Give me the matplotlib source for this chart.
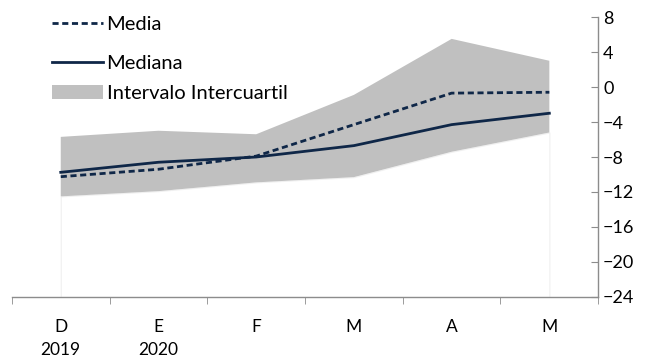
import matplotlib
matplotlib.use("Agg")
import matplotlib.pyplot as plt
from matplotlib.patches import Patch
from matplotlib.lines import Line2D

plt.rcParams['font.family'] = ['Lato', 'DejaVu Sans']

meses = ['D\n2019', 'E\n2020', 'F', 'M', 'A', 'M']
media = [-10.25, -9.4, -7.9, -4.3, -0.7, -0.6]
mediana = [-9.75, -8.6, -8.0, -6.7, -4.3, -3.0]
q1 = [-12.5, -11.9, -10.9, -10.3, -7.4, -5.2]
q3 = [-5.7, -5.0, -5.4, -0.9, 5.5, 3.0]

navy = '#0f2748'
gris = '#c0c0c0'
eje = '#8c8c8c'

fig = plt.figure(figsize=(6.61, 3.58), dpi=100)
ax = fig.add_axes([0.018, 0.1704, 0.887, 0.7821])

x = list(range(len(meses)))
ax.fill_between(x, -24, q1, facecolor='white', edgecolor='#f0f0f0', lw=0.8, zorder=1)
ax.fill_between(x, q1, q3, facecolor=gris, edgecolor='none', zorder=2)
ax.plot(x, mediana, color=navy, lw=2.0, zorder=3)
ax.plot(x, media, color=navy, lw=2.0, ls=(0, (2.2, 1.3)), zorder=4)

ax.set_xlim(-0.5, 5.5)
ax.set_ylim(-24, 8)
ax.set_yticks(range(-24, 9, 4))
ax.yaxis.tick_right()
ax.tick_params(axis='y', direction='in', length=5, color=eje, labelsize=13,
               pad=3.5, right=True, left=False)
ax.set_xticks(x)
ax.set_xticklabels(meses, linespacing=1.55)
ax.set_xticks([i - 0.5 for i in range(len(meses) + 1)], minor=True)
ax.tick_params(axis='x', which='major', length=0, labelsize=12.5, pad=16)
ax.tick_params(axis='x', which='minor', length=5, color=eje, direction='out')

for s in ['top', 'left']:
    ax.spines[s].set_visible(False)
for s in ['right', 'bottom']:
    ax.spines[s].set_color(eje)
    ax.spines[s].set_linewidth(1.0)

h1 = [Line2D([], [], color=navy, lw=2.0, ls=(0, (2.2, 1.3)))]
leg1 = ax.legend(h1, ['Media'], loc='upper left', bbox_to_anchor=(0.055, 1.033),
                 frameon=False, fontsize=14.5, handlelength=2.5, handletextpad=0.2,
                 borderaxespad=0)
ax.add_artist(leg1)
h2 = [Line2D([], [], color=navy, lw=2.0),
      Patch(facecolor=gris, edgecolor='none')]
ax.legend(h2, ['Mediana', 'Intervalo Intercuartil'], loc='upper left',
          bbox_to_anchor=(0.055, 0.893), frameon=False, fontsize=14.5,
          handlelength=2.5, handletextpad=0.2, labelspacing=0.62, borderaxespad=0)

fig.savefig('out.png', dpi=100)
